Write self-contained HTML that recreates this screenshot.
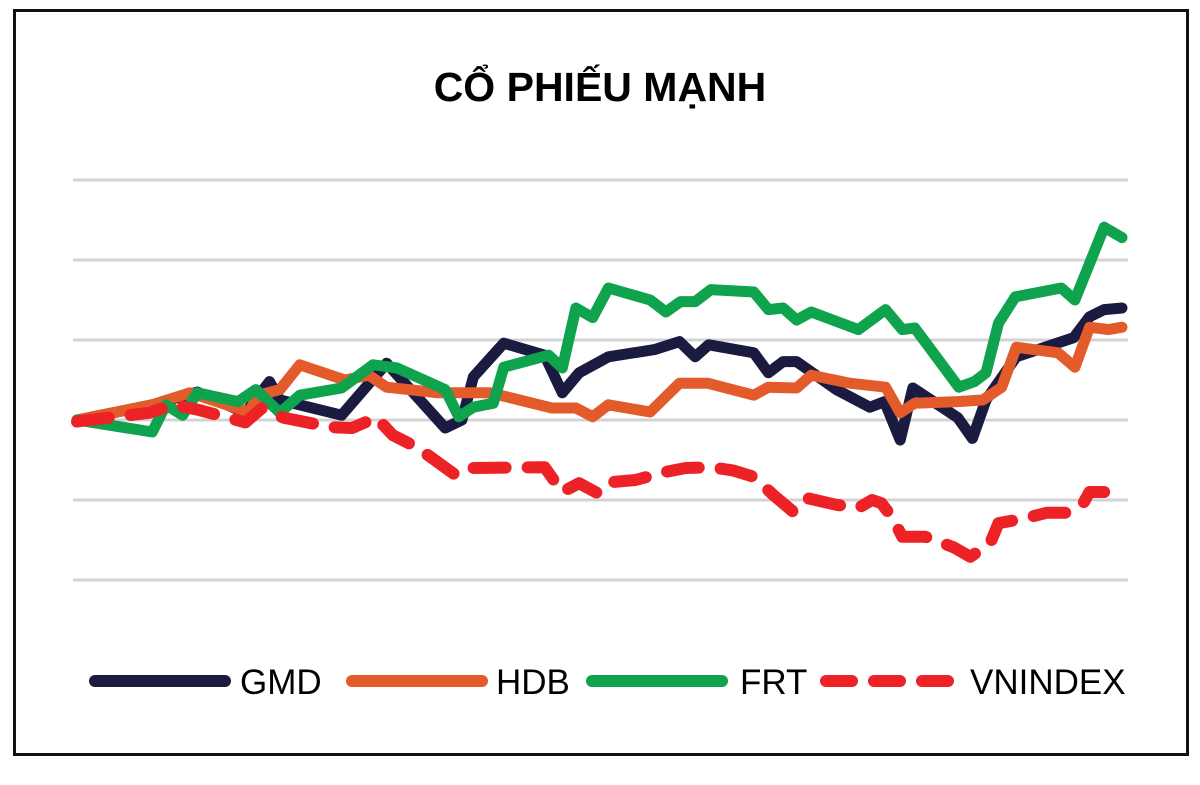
<!DOCTYPE html>
<html><head><meta charset="utf-8"><style>
html,body{margin:0;padding:0;background:#fff;}
svg{display:block;}
</style></head><body>
<svg id="chart" width="1200" height="785" viewBox="0 0 1200 785" xmlns="http://www.w3.org/2000/svg">
<rect x="14.5" y="10.5" width="1173" height="744" fill="#fff" stroke="#111" stroke-width="3"/>
<text x="600" y="101" text-anchor="middle" font-family="Liberation Sans, sans-serif" font-weight="bold" font-size="41" fill="#000">CỔ PHIẾU MẠNH</text>
<g id="grid"></g>
<g id="series"></g>
<g id="legend"></g>
</svg>
<script>
const gridValues = [30, 20, 10, 0, -10, -20];
const seriesNames = ["GMD", "HDB", "FRT", "VNINDEX"];
const gmd = [[0,0],[7.2,1.9],[11.5,3.5],[16.1,0.9],[18.4,4.8],[19.4,2.5],[25.3,0.6],[29.6,7.1],[35.2,-1.0],[36.8,0],[37.9,5.4],[40.8,9.6],[44.7,8.1],[46.4,3.4],[48.0,5.9],[50.8,7.9],[55.2,8.8],[57.6,9.8],[59.1,7.9],[60.4,9.4],[64.7,8.4],[66.1,5.9],[67.5,7.3],[68.8,7.3],[72.6,3.8],[75.8,1.6],[77.2,2.3],[78.7,-2.5],[79.9,4.0],[84.2,0.3],[85.6,-2.3],[86.9,2.5],[89.8,7.9],[95.3,10.3],[96.8,12.9],[98.2,13.8],[99.9,14.0]];
const hdb = [[0,0],[7.2,1.9],[10.8,3.4],[16.4,1.0],[17.4,3.1],[19.4,3.8],[21.3,6.9],[25.6,5.0],[27.9,5.6],[29.6,4.1],[34.5,3.4],[39.5,3.4],[45.4,1.5],[47.7,1.5],[49.3,0.4],[50.8,1.9],[54.8,1.0],[57.6,4.6],[60.3,4.6],[64.7,3.1],[66.1,4.1],[68.8,4.0],[70.2,5.6],[73.9,4.6],[77.3,4.1],[78.7,0.9],[80.1,2.1],[84.2,2.3],[86.6,2.5],[88.4,4.1],[89.8,9.1],[93.8,8.4],[95.4,6.6],[96.8,11.6],[98.6,11.3],[99.9,11.6]];
const frt = [[0,0],[7.2,-1.5],[8.5,1.9],[10.1,0.6],[11.5,3.4],[15.4,2.3],[17.1,3.8],[19.4,0.9],[21.3,3.1],[25.3,4.0],[28.3,6.9],[30.6,6.5],[35.2,3.8],[36.5,0.4],[37.9,1.6],[39.8,2.1],[40.8,6.6],[45.1,8.1],[46.4,6.5],[47.7,14.0],[49.3,12.8],[50.8,16.5],[54.8,15.0],[56.3,13.5],[57.7,14.8],[59.1,14.8],[60.6,16.3],[64.7,16.0],[66.1,13.8],[67.5,14.0],[68.8,12.5],[70.2,13.5],[74.7,11.3],[77.3,13.8],[78.9,11.3],[80.1,11.5],[84.3,4.1],[85.8,4.8],[86.9,5.9],[88.1,12.1],[89.7,15.4],[94.1,16.5],[95.4,15.0],[98.2,24.1],[99.9,22.8]];
const vnindex = [[0,-0.2],[6.9,0.9],[9.2,1.9],[11.5,1.3],[13.5,0.6],[16.1,-0.3],[17.7,1.5],[19.7,0.3],[24.3,-0.9],[26.3,-1.0],[28.6,0.3],[30.2,-1.9],[32.6,-3.5],[36.2,-6.9],[37.9,-6.0],[44.7,-5.9],[46.4,-9.0],[48.0,-7.9],[49.7,-9.1],[50.8,-7.8],[53.4,-7.5],[56.2,-6.5],[58.2,-6.0],[60.6,-5.9],[62.7,-6.3],[64.7,-7.1],[66.6,-9.4],[68.5,-11.5],[69.9,-9.8],[72.6,-10.6],[74.7,-11.0],[76.0,-10.0],[76.9,-10.4],[77.9,-12.1],[78.9,-14.6],[81.1,-14.6],[83.8,-15.9],[85.4,-17.1],[87.3,-15.4],[88.1,-12.9],[90.6,-12.3],[92.7,-11.6],[94.7,-11.6],[96.2,-10.4],[96.8,-9.0],[98.2,-9.0]];

const NS = "http://www.w3.org/2000/svg";
const xScale = d => 77 + d * 10.46;
const yScale = v => 420 - v * 8;

const grid = document.getElementById('grid');
gridValues.forEach(v => {
  const l = document.createElementNS(NS, 'line');
  
  
  l.setAttribute('x1', 73); l.setAttribute('x2', 1128);
  l.setAttribute('y1', yScale(v)); l.setAttribute('y2', yScale(v));
  l.setAttribute('stroke', '#d3d3d3'); l.setAttribute('stroke-width', 3);
  grid.appendChild(l);
});

const styles = [
  {data: gmd, color: '#1b1a40', dash: null},
  {data: hdb, color: '#e35b2a', dash: null},
  {data: frt, color: '#0ea34c', dash: null},
  {data: vnindex, color: '#ec2227', dash: '32 22'}
];
const sg = document.getElementById('series');
[0,1,2,3].forEach(i => {
  const s = styles[i];
  const p = document.createElementNS(NS, 'path');
  
  
  p.setAttribute('d', s.data.map((pt, k) => (k ? 'L' : 'M') + xScale(pt[0]).toFixed(1) + ' ' + yScale(pt[1]).toFixed(1)).join(' '));
  p.setAttribute('fill', 'none');
  p.setAttribute('stroke', s.color);
  p.setAttribute('stroke-width', i === 3 ? 12 : 11);
  p.setAttribute('stroke-linejoin', 'round');
  p.setAttribute('stroke-linecap', 'round');
  if (s.dash) p.setAttribute('stroke-dasharray', s.dash);
  sg.appendChild(p);
});

const legendPos = [[95, 225, 240], [352, 482, 496], [592, 722, 740], [826, 956, 970]];
const lg = document.getElementById('legend');
seriesNames.forEach((n, i) => {
  const s = styles[i];
  const l = document.createElementNS(NS, 'line');
  
  
  l.setAttribute('x1', legendPos[i][0]); l.setAttribute('x2', legendPos[i][1]);
  l.setAttribute('y1', 681); l.setAttribute('y2', 681);
  l.setAttribute('stroke', s.color); l.setAttribute('stroke-width', 12);
  l.setAttribute('stroke-linecap', 'round');
  if (s.dash) l.setAttribute('stroke-dasharray', '26 22');
  lg.appendChild(l);
  const t = document.createElementNS(NS, 'text');
  
  
  t.setAttribute('x', legendPos[i][2]); t.setAttribute('y', 694);
  t.setAttribute('font-family', 'Liberation Sans, sans-serif');
  t.setAttribute('font-size', 35);
  t.setAttribute('fill', '#000');
  t.textContent = n;
  lg.appendChild(t);
});
</script>
</body></html>
